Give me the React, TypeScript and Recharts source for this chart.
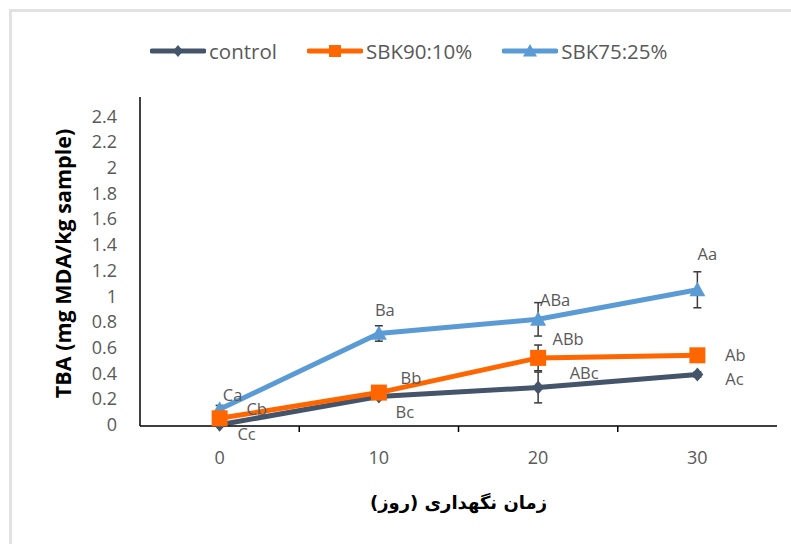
import React from "react";
import {
  LineChart,
  Line,
  XAxis,
  YAxis,
  ErrorBar,
  LabelList,
  Label,
} from "recharts";

// storage time (days)
const days = [0, 10, 20, 30];
const boundaryTicks = [5, 15, 25];
const yTicks = [0, 0.2, 0.4, 0.6, 0.8, 1, 1.2, 1.4, 1.6, 1.8, 2, 2.2, 2.4];

const controlValues = [0.0, 0.22, 0.29, 0.39];
const controlErrors = [0.01, 0.02, 0.12, 0.02];
const controlLetters = ["Cc", "Bc", "ABc", "Ac"];

const sbk90Values = [0.05, 0.25, 0.52, 0.54];
const sbk90Errors = [0.02, 0.03, 0.1, 0.03];
const sbk90Letters = ["Cb", "Bb", "ABb", "Ab"];

const sbk75Values = [0.12, 0.71, 0.82, 1.05];
const sbk75Errors = [0.03, 0.06, 0.13, 0.14];
const sbk75Letters = ["Ca", "Ba", "ABa", "Aa"];

// where each letter sits relative to its point (px)
const controlOffsets = [[27, 9], [26, 15], [46, -15], [37, 4]];
const sbk90Offsets = [[37, -10], [32, -15], [30, -19], [38, -1]];
const sbk75Offsets = [[13, -15], [6, -24], [17, -20], [10, -36]];

const NAVY = "#44546A";
const ORANGE = "#FF6600";
const BLUE = "#5B9BD5";
const GRAY = "#595959";
const FONT = "'Open Sans', 'Liberation Sans', sans-serif";

const data = days.map((d, i) => ({
  day: d,
  control: controlValues[i],
  controlErr: controlErrors[i],
  controlLabel: controlLetters[i],
  sbk90: sbk90Values[i],
  sbk90Err: sbk90Errors[i],
  sbk90Label: sbk90Letters[i],
  sbk75: sbk75Values[i],
  sbk75Err: sbk75Errors[i],
  sbk75Label: sbk75Letters[i],
}));

function Diamond({ cx, cy, color, size = 7 }: any) {
  return (
    <polygon
      points={`${cx},${cy - size} ${cx + size * 0.85},${cy} ${cx},${cy + size} ${cx - size * 0.85},${cy}`}
      fill={color}
    />
  );
}

function Square({ cx, cy, color, size = 8 }: any) {
  return <rect x={cx - size} y={cy - size} width={size * 2} height={size * 2} fill={color} />;
}

function Triangle({ cx, cy, color, size = 8 }: any) {
  return (
    <polygon
      points={`${cx},${cy - size} ${cx + size},${cy + size * 0.8} ${cx - size},${cy + size * 0.8}`}
      fill={color}
    />
  );
}

const letterLabel = (offsets: number[][]) => (props: any) => {
  const { x, y, value, index } = props;
  const [dx, dy] = offsets[index] || [0, 0];
  return (
    <text
      x={x + dx}
      y={y + dy}
      textAnchor="middle"
      dominantBaseline="central"
      fill={GRAY}
      fontSize={16.5}
      fontFamily={FONT}
    >
      {value}
    </text>
  );
};

function DayTick(props: any) {
  const { x, y, payload } = props;
  if (boundaryTicks.includes(payload.value)) {
    return <line x1={x} y1={y} x2={x} y2={y + 6} stroke="#000" strokeWidth={1.5} />;
  }
  return (
    <text x={x} y={y + 31} textAnchor="middle" dominantBaseline="central" fill={GRAY} fontSize={18} fontFamily={FONT}>
      {payload.value}
    </text>
  );
}

function LegendIcon({ kind, color }: { kind: string; color: string }) {
  return (
    <svg width={56} height={20} style={{ display: "block" }}>
      <line x1={2} y1={10} x2={54} y2={10} stroke={color} strokeWidth={5} strokeLinecap="round" />
      {kind === "diamond" && <Diamond cx={28} cy={10} color={color} size={6} />}
      {kind === "square" && <Square cx={28} cy={10} color={color} size={6} />}
      {kind === "triangle" && <Triangle cx={28} cy={10} color={color} size={7} />}
    </svg>
  );
}

const legendItems = [
  { name: "control", kind: "diamond", color: NAVY },
  { name: "SBK90:10%", kind: "square", color: ORANGE },
  { name: "SBK75:25%", kind: "triangle", color: BLUE },
];

export default function App() {
  const allTicks = [...days, ...boundaryTicks].sort((a, b) => a - b);
  return (
    <div style={{ position: "absolute", left: 0, top: 0, width: 791, height: 544, background: "#fff", overflow: "hidden" }}>
      <div
        style={{
          position: "absolute",
          left: 9,
          top: 9,
          right: 0,
          bottom: 0,
          borderTop: "3px solid #e2e2e2",
          borderLeft: "3px solid #e2e2e2",
        }}
      />
      <div
        style={{
          position: "absolute",
          left: 150,
          top: 37,
          display: "flex",
          alignItems: "center",
          gap: 30,
          fontFamily: FONT,
          fontSize: 20.5,
          color: GRAY,
        }}
      >
        {legendItems.map((it) => (
          <div key={it.name} style={{ display: "flex", alignItems: "center", gap: 3 }}>
            <LegendIcon kind={it.kind} color={it.color} />
            <span>{it.name}</span>
          </div>
        ))}
      </div>
      <div style={{ position: "absolute", left: 0, top: 0 }}>
        <LineChart width={791} height={544} data={data} margin={{ top: 97, right: 14, bottom: 88, left: 80 }}>
          <XAxis
            dataKey="day"
            type="number"
            domain={[-5, 35]}
            ticks={allTicks}
            interval={0}
            height={30}
            tickLine={false}
            tickSize={0}
            tickMargin={0}
            axisLine={{ stroke: "#000", strokeWidth: 1.5 }}
            tick={<DayTick />}
          >
            <Label
              content={({ viewBox }: any) => (
                <text
                  x={viewBox.x + viewBox.width / 2}
                  y={viewBox.y + 76}
                  textAnchor="middle"
                  dominantBaseline="central"
                  direction="rtl"
                  fontFamily="'DejaVu Sans', sans-serif"
                  fontWeight="bold"
                  fontSize={18}
                  fill="#000"
                >
                  زمان نگهداری (روز)
                </text>
              )}
            />
          </XAxis>
          <YAxis
            type="number"
            domain={[0, 2.55]}
            ticks={yTicks}
            interval={0}
            width={60}
            tickLine={false}
            tickSize={0}
            tickMargin={23}
            axisLine={{ stroke: "#000", strokeWidth: 1.5 }}
            tick={{ fill: GRAY, fontSize: 18, fontFamily: FONT }}
            tickFormatter={(v: number) => String(Math.round(v * 10) / 10)}
          >
            <Label
              content={({ viewBox }: any) => {
                const cx = 62;
                const cy = viewBox.y + viewBox.height / 2 + 2;
                return (
                  <text
                    x={cx}
                    y={cy}
                    transform={`rotate(-90 ${cx} ${cy})`}
                    textAnchor="middle"
                    dominantBaseline="central"
                    fontFamily={FONT}
                    fontWeight="bold"
                    fontSize={21.5}
                    fill="#000"
                  >
                    TBA (mg MDA/kg sample)
                  </text>
                );
              }}
            />
          </YAxis>
          <Line
            dataKey="control"
            stroke={NAVY}
            strokeWidth={5}
            isAnimationActive={false}
            dot={(p: any) => <Diamond key={`c${p.index}`} cx={p.cx} cy={p.cy} color={NAVY} size={7} />}
            activeDot={false}
          >
            <ErrorBar dataKey="controlErr" direction="y" width={4} stroke="#3a3a3a" strokeWidth={1.5} />
            <LabelList dataKey="controlLabel" content={letterLabel(controlOffsets)} />
          </Line>
          <Line
            dataKey="sbk75"
            stroke={BLUE}
            strokeWidth={5}
            isAnimationActive={false}
            dot={(p: any) => <Triangle key={`b${p.index}`} cx={p.cx} cy={p.cy} color={BLUE} size={8} />}
            activeDot={false}
          >
            <ErrorBar dataKey="sbk75Err" direction="y" width={4} stroke="#3a3a3a" strokeWidth={1.5} />
            <LabelList dataKey="sbk75Label" content={letterLabel(sbk75Offsets)} />
          </Line>
          <Line
            dataKey="sbk90"
            stroke={ORANGE}
            strokeWidth={5}
            isAnimationActive={false}
            dot={(p: any) => <Square key={`o${p.index}`} cx={p.cx} cy={p.cy} color={ORANGE} size={8} />}
            activeDot={false}
          >
            <ErrorBar dataKey="sbk90Err" direction="y" width={4} stroke="#3a3a3a" strokeWidth={1.5} />
            <LabelList dataKey="sbk90Label" content={letterLabel(sbk90Offsets)} />
          </Line>
        </LineChart>
      </div>
    </div>
  );
}
